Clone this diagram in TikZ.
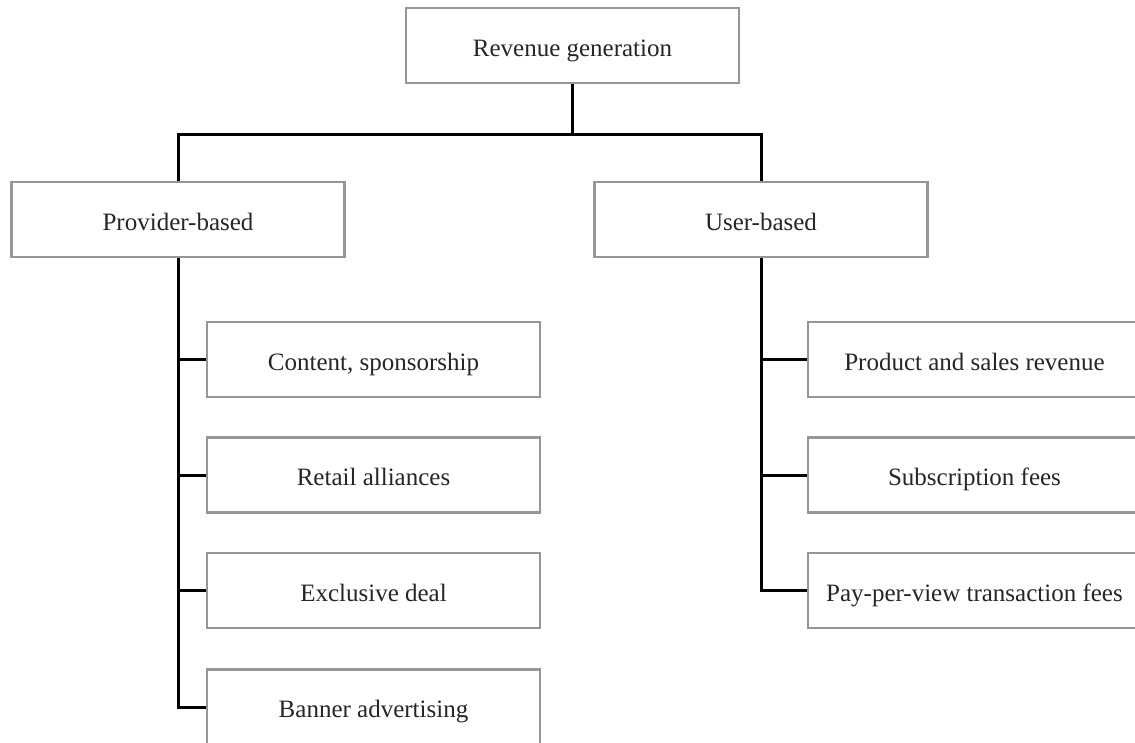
\documentclass[tikz,border=0pt]{standalone}
\usepackage{fontspec}
\setmainfont{Liberation Serif}
\begin{document}
\begin{tikzpicture}[x=1pt,y=-1pt,
  box/.style={draw={rgb,255:red,150;green,150;blue,150}, line width=2.5pt, fill=white,
    minimum width=333pt, minimum height=75pt, inner sep=0pt,
    text height=21pt, text depth=0pt,
    font=\fontsize{25}{30}\selectfont, text=black!85},
  link/.style={draw=black, line width=3pt}]
\useasboundingbox (0,0) rectangle (1135,742);
\clip (0,0) rectangle (1135,742);
% root and the two branches
\node[box] (root) at (572.5,45.5) {Revenue generation};
\node[box] (prov) at (178,219.5) {Provider-based};
\node[box] (user) at (761,219.5) {User-based};
% provider-based items
\node[box] (p1) at (373.5,359.5) {Content, sponsorship};
\node[box] (p2) at (373.5,475) {Retail alliances};
\node[box] (p3) at (373.5,590.5) {Exclusive deal};
\node[box] (p4) at (373.5,707) {Banner advertising};
% user-based items
\node[box] (u1) at (974.5,359.5) {Product and sales revenue};
\node[box] (u2) at (974.5,475) {Subscription fees};
\node[box] (u3) at (974.5,590.5) {Pay-per-view transaction fees};
% connectors
\coordinate (split) at ([yshift=-50pt]root.south);
\draw[link] (root.south) -- (split);
\draw[link] (split) -| (prov.north);
\draw[link] (split) -| (user.north);
\draw[link] (prov.south) |- (p4.west);
\foreach \n in {p1,p2,p3} \draw[link] (prov.south |- \n.west) -- (\n.west);
\draw[link] (user.south) |- (u3.west);
\foreach \n in {u1,u2} \draw[link] (user.south |- \n.west) -- (\n.west);
\end{tikzpicture}
\end{document}
